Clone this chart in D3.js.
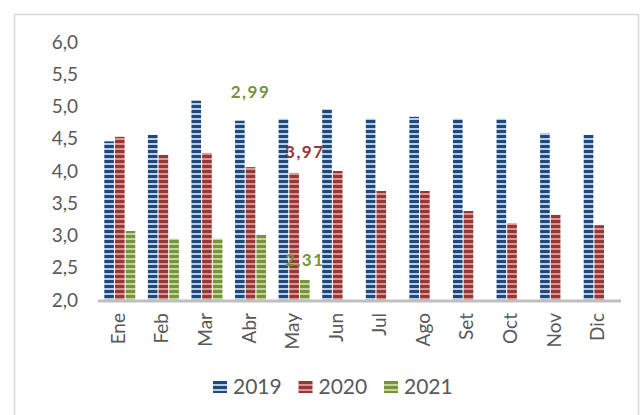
<!DOCTYPE html>
<html>
<head>
<meta charset="utf-8">
<script src="https://cdn.jsdelivr.net/npm/d3@7"></script>
<style>
  body { margin: 0; background: #fff; }
  svg { display: block; font-family: Lato, "Open Sans", sans-serif; }
</style>
</head>
<body>
<svg id="chart" width="644" height="415"></svg>
<script>
// monthly values per year
const months = ['Ene', 'Feb', 'Mar', 'Abr', 'May', 'Jun', 'Jul', 'Ago', 'Set', 'Oct', 'Nov', 'Dic'];
const series = ['2019', '2020', '2021'];
const values2019 = [4.46, 4.56, 5.09, 4.78, 4.81, 4.96, 4.81, 4.84, 4.81, 4.81, 4.59, 4.56];
const values2020 = [4.53, 4.25, 4.28, 4.06, 3.97, 4.00, 3.69, 3.69, 3.38, 3.19, 3.32, 3.16];
const values2021 = [3.07, 2.95, 2.95, 3.01, 2.31, null, null, null, null, null, null, null];
const yTicks = [2.0, 2.5, 3.0, 3.5, 4.0, 4.5, 5.0, 5.5, 6.0];

// floating data labels: month, bar they sit over, colour series, text, height in data units
const noteMonth = ['Abr', 'May', 'May'];
const noteBar = ['2020', '2021', '2021'];
const noteSeries = ['2021', '2020', '2021'];
const noteText = ['2,99', '3,97', '2,31'];
const noteLevel = [5.13, 4.20, 2.53];

const colors = {
    '2019': ['#1F497D', '#B9CDE5'],
    '2020': ['#953735', '#D99694'],
    '2021': ['#77933C', '#C3D69B']
};

const svg = d3.select('#chart');
const defs = svg.append('defs');

// striped fills like the excel pattern
series.forEach(s => {
    const p = defs.append('pattern')
        .attr('id', 'pat' + s)
        .attr('patternUnits', 'userSpaceOnUse')
        .attr('width', 8).attr('height', 5);
    p.append('rect').attr('width', 8).attr('height', 5).attr('fill', colors[s][1]);
    p.append('rect').attr('width', 8).attr('height', 3).attr('fill', colors[s][0]);
});

// outer frame
svg.append('rect')
    .attr('x', 14.5).attr('y', 14.5)
    .attr('width', 624).attr('height', 420)
    .attr('fill', 'none')
    .attr('stroke', '#D9D9D9')
    .attr('stroke-width', 1.5);

const x0 = d3.scaleBand().domain(months).range([98, 621]);
const groupW = 31;
const x1 = d3.scaleBand().domain(series).range([0, groupW]).paddingInner(0.1);
const y = d3.scaleLinear().domain([2, 6]).range([300, 42]);

const groupX = m => x0(m) + (x0.bandwidth() - groupW) / 2;

const rows = months.map((m, i) => ({
    month: m,
    vals: [values2019[i], values2020[i], values2021[i]]
}));

const groups = svg.append('g').selectAll('g')
    .data(rows)
    .join('g')
    .attr('transform', d => `translate(${groupX(d.month)},0)`);

groups.selectAll('rect')
    .data(d => series.map((s, k) => ({ s: s, v: d.vals[k] })).filter(e => e.v != null))
    .join('rect')
    .attr('x', d => x1(d.s))
    .attr('width', x1.bandwidth())
    .attr('y', d => y(d.v))
    .attr('height', d => y(2) - y(d.v))
    .attr('fill', d => `url(#pat${d.s})`);

// base line
svg.append('line')
    .attr('x1', x0.range()[0]).attr('x2', x0.range()[1])
    .attr('y1', y(2) + 1).attr('y2', y(2) + 1)
    .attr('stroke', '#BFBFBF')
    .attr('stroke-width', 3);

// y axis labels only
const yAxis = d3.axisLeft(y)
    .tickValues(yTicks)
    .tickSize(0)
    .tickPadding(0)
    .tickFormat(d => d3.format('.1f')(d).replace('.', ','));
svg.append('g')
    .attr('transform', 'translate(78,0)')
    .call(yAxis)
    .call(g => g.select('.domain').remove())
    .selectAll('text')
    .attr('fill', '#595959')
    .style('font-size', '19px')
    .style('font-family', 'Lato, sans-serif');

// month labels, rotated
svg.append('g').selectAll('text')
    .data(months)
    .join('text')
    .attr('transform', d => `translate(${x0(d) + x0.bandwidth() / 2 + 5},313) rotate(-90)`)
    .attr('text-anchor', 'end')
    .attr('fill', '#595959')
    .style('font-size', '19px')
    .text(d => d);

// floating labels
noteText.forEach((t, i) => {
    const cx = groupX(noteMonth[i]) + x1(noteBar[i]) + x1.bandwidth() / 2;
    svg.append('text')
        .attr('x', cx)
        .attr('y', y(noteLevel[i]))
        .attr('text-anchor', 'middle')
        .attr('fill', colors[noteSeries[i]][0])
        .style('font-size', '17px')
        .style('font-weight', 'bold')
        .style('letter-spacing', '1.5px')
        .text(t);
});

// legend
const legend = svg.append('g').selectAll('g')
    .data(series)
    .join('g')
    .attr('transform', (d, i) => `translate(${213 + i * 85.5},381)`);
legend.append('rect')
    .attr('width', 14).attr('height', 12)
    .attr('fill', d => `url(#pat${d})`);
legend.append('text')
    .attr('x', 20).attr('y', 13)
    .attr('fill', '#595959')
    .style('font-size', '21px')
    .text(d => d);
</script>
</body>
</html>
